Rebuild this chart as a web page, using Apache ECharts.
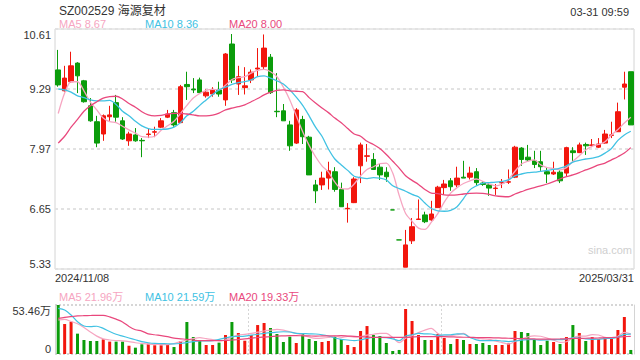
<!DOCTYPE html>
<html>
<head>
<meta charset="utf-8">
<script src="https://cdn.jsdelivr.net/npm/echarts@6/dist/echarts.min.js"></script>
<style>
html,body{margin:0;padding:0;background:#fff;}
#chart{width:640px;height:360px;}
</style>
</head>
<body>
<div id="chart"></div>
<script>
// ---------- data ----------
const dates = [
"2024/11/08","2024/11/11","2024/11/12","2024/11/13","2024/11/14","2024/11/15","2024/11/18","2024/11/19","2024/11/20","2024/11/21",
"2024/11/22","2024/11/25","2024/11/26","2024/11/27","2024/11/28","2024/11/29","2024/12/02","2024/12/03","2024/12/04","2024/12/05",
"2024/12/06","2024/12/09","2024/12/10","2024/12/11","2024/12/12","2024/12/13","2024/12/16","2024/12/17","2024/12/18","2024/12/19",
"2024/12/20","2024/12/30","2024/12/31","2025/01/02","2025/01/03","2025/01/06","2025/01/07","2025/01/08","2025/01/09","2025/01/10",
"2025/01/13","2025/01/14","2025/01/15","2025/01/16","2025/01/17","2025/01/20","2025/01/21","2025/01/22","2025/01/23","2025/01/24",
"2025/01/27","2025/02/05","2025/02/06","2025/02/07","2025/02/10","2025/02/11","2025/02/12","2025/02/13","2025/02/14","2025/02/17",
"2025/02/18","2025/02/19","2025/02/20","2025/02/21","2025/02/24","2025/02/25","2025/02/26","2025/02/27","2025/02/28","2025/03/03",
"2025/03/04","2025/03/05","2025/03/06","2025/03/07","2025/03/10","2025/03/11","2025/03/12","2025/03/13","2025/03/14","2025/03/17",
"2025/03/18","2025/03/19","2025/03/20","2025/03/21","2025/03/24","2025/03/25","2025/03/26","2025/03/27","2025/03/28","2025/03/31"];

const opens  = [9.71,9.25,9.45,9.86,9.47,8.92,8.57,8.30,8.68,8.99, 8.59,8.15,8.28,8.16,8.29,8.34,8.45,8.67,8.77,8.55,
                9.39,9.29,9.49,9.14,9.18,9.27,9.05,10.28,9.40,9.32, 9.49,9.73,9.78,9.99,8.80,8.81,8.50,8.10,8.62,8.23,
                7.18,7.18,7.33,7.47,7.08,6.655,6.79,7.60,7.81,7.74, 7.57,7.46,6.63,5.97,5.37,5.95,6.42,6.52,6.41,6.68,
                7.12,7.27,7.18,7.35,7.35,7.47,7.22,7.18,7.10,7.225, 7.24,7.35,7.99,7.79,7.71,7.69,7.47,7.42,7.46,7.44,
                7.93,7.89,8.07,8.05,8.01,8.10,8.27,8.35,9.33,9.67];
const closes = [9.38,9.53,9.80,9.58,9.01,8.59,8.10,8.70,8.72,8.67, 8.19,8.30,8.15,8.15,8.30,8.35,8.59,8.74,8.50,9.34,
                9.34,9.27,9.21,9.22,9.27,9.18,10.06,9.49,9.56,9.36, 9.66,9.75,10.19,9.21,8.79,8.59,8.04,8.83,8.24,7.40,
                7.05,7.33,7.49,7.08,6.70,6.665,7.31,8.06,7.82,7.52, 7.40,7.36,6.63,5.97,5.86,6.26,6.43,6.37,6.54,7.13,
                7.20,7.14,7.33,7.33,7.44,7.23,7.19,7.11,7.11,7.235, 7.25,8.01,7.74,7.73,7.63,7.58,7.42,7.46,7.27,8.00,
                7.89,8.06,8.04,8.06,8.08,8.30,8.28,8.79,9.40,8.50];
const lows   = [9.34,9.23,9.43,9.20,8.99,8.57,8.01,8.15,8.59,8.57, 8.17,8.04,8.13,7.79,8.21,8.23,8.43,8.65,8.46,8.54,
                9.05,9.20,9.20,9.10,9.12,9.12,8.92,9.42,9.16,9.17, 9.42,9.56,9.72,9.18,8.67,8.59,7.93,8.08,8.08,7.40,
                6.78,7.07,7.08,7.03,6.70,6.35,6.78,7.22,7.69,7.51, 7.29,7.25,6.63,5.97,5.37,5.88,6.41,6.34,6.39,6.68,
                6.96,7.05,7.13,7.33,7.30,7.16,7.16,6.94,6.96,7.11, 7.20,7.33,7.60,7.69,7.55,7.49,7.22,7.40,7.22,7.36,
                7.69,7.88,7.84,8.01,7.99,8.09,8.21,8.35,9.06,8.50];
const highs  = [10.15,9.80,10.11,9.88,9.49,9.09,8.70,8.73,8.92,9.16, 8.67,8.35,8.43,8.21,8.43,8.46,8.65,8.83,8.83,9.38,
                9.67,9.53,9.54,9.28,9.33,9.45,10.08,10.50,9.80,9.77, 9.72,10.19,10.49,10.06,9.64,8.96,8.59,8.87,8.70,8.26,
                7.29,7.47,7.69,7.57,7.23,6.78,7.35,8.11,8.08,7.88, 7.64,7.57,6.63,5.97,6.19,6.45,6.86,6.59,6.83,7.16,
                7.29,7.33,7.58,7.71,7.58,7.55,7.26,7.22,7.20,7.31, 7.52,8.04,8.01,8.06,7.93,7.93,7.57,7.69,7.50,8.02,
                8.01,8.11,8.11,8.19,8.21,8.39,8.57,8.99,9.67,9.67];

const ma5  = [8.75,9.20,9.45,9.45,9.25,9.00,8.83,8.65,8.57,8.55, 8.47,8.39,8.32,8.24,8.23,8.25,8.38,8.48,8.58,8.75,
              8.93,9.09,9.19,9.26,9.28,9.27,9.37,9.50,9.54,9.56, 9.64,9.70,9.72,9.67,9.56,9.33,9.05,8.70,8.35,8.05,
              7.80,7.60,7.46,7.24,7.10,7.09,7.20,7.38,7.52,7.58, 7.65,7.66,7.44,6.95,6.55,6.38,6.23,6.20,6.36,6.55,
              6.80,7.00,7.12,7.21,7.27,7.31,7.26,7.20,7.16,7.20, 7.30,7.48,7.64,7.70,7.73,7.62,7.56,7.54,7.51,7.56,
              7.70,7.82,7.95,8.03,8.07,8.13,8.28,8.40,8.54,8.67];
const ma10 = [9.29,9.27,9.22,9.14,9.10,9.05,9.03,9.03,9.04,8.95, 8.80,8.70,8.58,8.48,8.42,8.40,8.40,8.41,8.45,8.55,
              8.70,8.80,8.93,9.05,9.17,9.27,9.33,9.39,9.43,9.45, 9.49,9.56,9.58,9.53,9.47,9.40,9.27,9.11,8.93,8.70,
              8.45,8.25,7.97,7.75,7.62,7.50,7.37,7.34,7.32,7.34, 7.33,7.29,7.16,7.10,7.04,6.97,6.92,6.78,6.66,6.61,
              6.60,6.62,6.70,6.88,7.07,7.16,7.22,7.23,7.24,7.26, 7.29,7.38,7.42,7.45,7.46,7.48,7.50,7.52,7.55,7.60,
              7.68,7.72,7.75,7.77,7.80,7.88,7.98,8.16,8.28,8.36];
const ma20 = [8.10,8.25,8.45,8.62,8.80,8.92,9.01,9.09,9.12,9.13, 9.07,8.97,8.89,8.79,8.72,8.70,8.71,8.74,8.755,8.755,
              8.74,8.72,8.70,8.70,8.715,8.76,8.83,8.87,8.90,8.94, 9.01,9.08,9.16,9.22,9.26,9.27,9.25,9.24,9.23,9.10,
              8.98,8.87,8.77,8.65,8.55,8.42,8.30,8.25,8.14,8.07, 7.98,7.85,7.70,7.55,7.38,7.28,7.19,7.08,7.00,6.99,
              6.96,6.955,6.96,6.98,6.995,7.00,6.995,6.97,6.94,6.925, 6.92,6.98,7.03,7.08,7.12,7.16,7.20,7.25,7.31,7.36,
              7.40,7.45,7.51,7.56,7.62,7.66,7.73,7.80,7.88,8.00];

// volume in 万
const volumes = [53.46,32.7,35.2,22.2,15.3,14.2,14.2,16.0,13.5,13.5, 13.5,9.1,6.9,10.6,11.3,9.5,9.5,10.6,7.6,14.2,
                 34.9,18.5,15.3,9.8,9.8,12.4,20.7,34.9,22.9,14.5, 20.7,31.6,33.8,28.4,21.8,13.1,18.9,12.0,22.9,16.4,
                 14.2,13.1,14.2,19.6,16.4,9.8,7.6,25.1,30.5,20.7, 19.6,12.0,3.3,4.4,49.1,36.0,20.7,15.3,15.3,21.8,
                 17.5,10.9,16.4,15.3,10.9,10.9,12.0,9.8,9.8,9.8, 11.6,25.1,24.0,22.9,15.3,9.8,14.5,13.1,10.9,18.5,
                 31.6,22.9,14.2,18.5,16.4,18.5,16.7,26.2,40.4,4.4];
const vma5  = [37.1,37.8,35.5,33,29,24,19.5,16.5,15.3,14.7, 14.3,13.5,12.3,11.5,10.7,10.5,10.3,10.2,11.5,13.5,
               15.3,16.8,17.8,16.7,15.8,14.5,15.5,18.5,20.7,21.5, 22.5,23.8,25.1,26,26.9,26,24.3,22.5,20.7,18.5,
               17.1,17.3,18,19.6,18.2,19.3,18.5,19,20.5,21.5, 22.5,22.5,18,12.4,17.1,20,23.3,26,28,22.5,
               19.6,20,21,22.5,18.2,17,16.5,16,14,12.5, 10.8,13.6,16.3,18.7,19.8,19.4,17.3,15.1,12.7,13.4,
               17.7,19.4,19.5,21.1,20.7,18.1,16.9,19.3,23.6,21.96];
const vma10 = [49.8,48,42.5,35.2,30.5,29.8,30.3,28,24.5,21.5, 19.5,17.5,15.5,13.5,12.3,11.6,11.4,11.2,11,11.5,
               12.4,13.5,14.2,14.2,14.5,16,17.5,18.9,19.2,19.6, 20.5,21.5,22.5,23.3,23.8,24.3,24,22.5,22.3,22,
               21.8,21,19.6,17.5,16,15.3,14.5,15.5,17,18, 18.2,17.8,16.5,14.5,19.6,21,22.5,22,21.8,20.4,
               20.8,21,22,21.8,18,15.5,14.5,14.5,14.8,14.2, 13.6,14.2,15.2,15.7,15.8,15.2,15.4,15.7,15.7,16.4,
               17.6,17.4,16.5,16.0,16.1,16.8,17.1,18.4,21.4,21.59];
const vma20 = [38.9,40,40.8,41.5,41.8,42,42.2,42.2,40.5,38, 35,30,26.5,25,22,21,20,18.9,17.3,16.6,
               16,15.2,14.5,14.5,14.5,14.5,14.8,15.3,15.8,16.5, 17.2,18,18.5,19,19.6,19.8,20,20,19.8,19.7,
               19.6,19.7,19.8,19.9,20,19.6,19.2,18.8,18.5,18.2, 18.2,18.2,18.2,18.1,18.2,18.5,18.9,18.9,18.9,18.9,
               18.9,18.7,18.5,18.3,18.2,18,17.8,17.8,17.6,17.4, 17.2,17.0,16.8,16.6,16.4,16.2,16.2,16.3,16.4,16.6,
               16.9,17.1,17.2,17.3,17.5,17.8,18.0,18.4,18.9,19.33];

const priceTicks = [5.33, 6.65, 7.97, 9.29, 10.61];
const volMax = 53.46;

// ---------- chart ----------
const UP = '#f2160d', DOWN = '#0b9c0b';
const C5 = '#f6a5c1', C10 = '#41c2e3', C20 = '#e9487d';
const FONT = 'Arial, "Liberation Sans", "Noto Sans CJK SC", sans-serif';

function sign(i){
  if (closes[i] > opens[i]) return 1;
  if (closes[i] < opens[i]) return -1;
  return (i > 0 && closes[i-1] > closes[i]) ? -1 : 1;
}
const kData = opens.map((o, i) => [o, closes[i], lows[i], highs[i]]);
const volData = volumes.map((v, i) => ({value: v, itemStyle: {color: sign(i) > 0 ? UP : DOWN}}));

const chart = echarts.init(document.getElementById('chart'), null, {renderer: 'svg'});
const txt = (text, left, top, color, size) => ({
  text, left, top, textStyle: {color, fontSize: size || 11, fontWeight: 'normal', fontFamily: FONT}
});
chart.setOption({
  animation: false,
  backgroundColor: '#fff',
  title: [
    txt('SZ002529 海源复材', 54, 0, '#333', 12),
    {text: '03-31 09:59', right: 6, top: 1, textStyle: {color: '#333', fontSize: 11, fontWeight: 'normal', fontFamily: FONT}},
    txt('MA5 ' + ma5[ma5.length-1].toFixed(2), 54, 13, C5),
    txt('MA10 ' + ma10[ma10.length-1].toFixed(2), 140, 13, C10),
    txt('MA20 ' + ma20[ma20.length-1].toFixed(2), 224, 13, C20),
    txt('MA5 ' + vma5[vma5.length-1].toFixed(2) + '万', 54, 286, C5),
    txt('MA10 ' + vma10[vma10.length-1].toFixed(2) + '万', 140, 286, C10),
    txt('MA20 ' + vma20[vma20.length-1].toFixed(2) + '万', 224, 286, C20)
  ],
  graphic: [{type: 'text', right: 8, top: 244, style: {text: 'sina.com', fill: '#cfcfcf', font: '11px ' + FONT}}],
  grid: [
    {left: 55, right: 6, top: 29, height: 240, show: true, borderColor: '#d4d4d4', borderWidth: 1},
    {left: 55, right: 6, top: 305, height: 49}
  ],
  xAxis: [
    {type: 'category', gridIndex: 0, data: dates, boundaryGap: true,
     axisLine: {show: false}, axisTick: {show: false}, axisLabel: {show: false}, splitLine: {show: false}},
    {type: 'category', gridIndex: 0, data: dates, boundaryGap: false, position: 'bottom',
     axisLine: {show: false}, axisTick: {show: false}, splitLine: {show: false},
     axisLabel: {show: true, margin: 3, color: '#333', fontSize: 11, fontFamily: FONT,
       interval: (i) => i === 0 || i === dates.length - 1,
       alignMinLabel: 'left', alignMaxLabel: 'right'}},
    {type: 'category', gridIndex: 1, data: dates, boundaryGap: true,
     axisLine: {show: false}, axisTick: {show: false}, axisLabel: {show: false},
     splitLine: {show: true, interval: (i) => i === 30 || i === 60,
       lineStyle: {color: '#d6d6d6', type: [2, 2], width: 1}}}
  ],
  yAxis: [
    {type: 'value', gridIndex: 0, min: priceTicks[0], max: priceTicks[priceTicks.length-1],
     interval: 1.32, scale: true,
     axisLine: {show: false}, axisTick: {show: false},
     axisLabel: {color: '#333', fontSize: 11, fontFamily: FONT, margin: 4,
       formatter: (v) => v.toFixed(2),
       verticalAlignMinLabel: 'bottom', verticalAlignMaxLabel: 'top'},
     splitLine: {show: true, lineStyle: {color: '#e2e2e2', type: [3, 3], width: 2}}},
    {type: 'value', gridIndex: 1, min: 0, max: volMax, interval: volMax,
     axisLine: {show: true, lineStyle: {color: '#d4d4d4'}}, axisTick: {show: false},
     axisLabel: {color: '#333', fontSize: 11, fontFamily: FONT, margin: 4,
       formatter: (v) => v === 0 ? '0' : v.toFixed(2) + '万',
       verticalAlignMinLabel: 'bottom', verticalAlignMaxLabel: 'top'},
     splitLine: {show: true, lineStyle: {color: '#d6d6d6', type: [2, 2], width: 2}}},
    {type: 'value', gridIndex: 1, min: 0, max: volMax, position: 'right',
     axisLine: {show: true, lineStyle: {color: '#d4d4d4'}}, axisTick: {show: false},
     axisLabel: {show: false}, splitLine: {show: false}}
  ],
  series: [
    {type: 'candlestick', xAxisIndex: 0, yAxisIndex: 0, data: kData, barWidth: 5,
     itemStyle: {color: UP, color0: DOWN, borderColor: UP, borderColor0: DOWN, borderWidth: 1}},
    {type: 'line', xAxisIndex: 0, yAxisIndex: 0, data: ma5, symbol: 'none', smooth: 0.3,
     lineStyle: {color: C5, width: 1.3}},
    {type: 'line', xAxisIndex: 0, yAxisIndex: 0, data: ma10, symbol: 'none', smooth: 0.3,
     lineStyle: {color: C10, width: 1.3}},
    {type: 'line', xAxisIndex: 0, yAxisIndex: 0, data: ma20, symbol: 'none', smooth: 0.3,
     lineStyle: {color: C20, width: 1.3}},
    {type: 'bar', xAxisIndex: 2, yAxisIndex: 1, data: volData, barWidth: 3},
    {type: 'line', xAxisIndex: 2, yAxisIndex: 1, data: vma5, symbol: 'none', smooth: 0.3,
     lineStyle: {color: C5, width: 1.2}},
    {type: 'line', xAxisIndex: 2, yAxisIndex: 1, data: vma10, symbol: 'none', smooth: 0.3,
     lineStyle: {color: C10, width: 1.2}},
    {type: 'line', xAxisIndex: 2, yAxisIndex: 1, data: vma20, symbol: 'none', smooth: 0.3,
     lineStyle: {color: C20, width: 1.2}}
  ]
});
</script>
</body>
</html>
